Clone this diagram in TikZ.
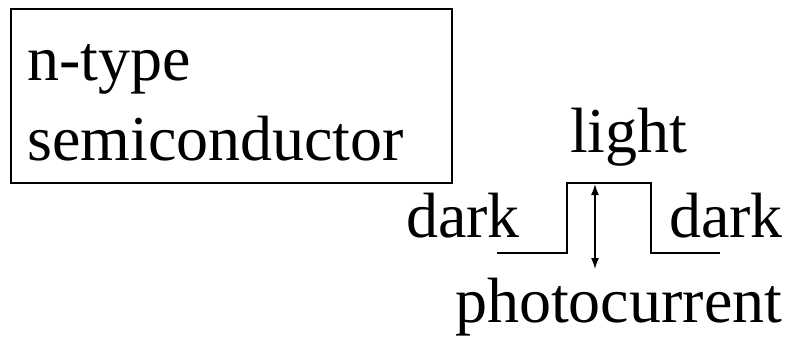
\documentclass[tikz,border=0pt]{standalone}
\usepackage{fontspec}
\setmainfont{Liberation Serif}
\usetikzlibrary{arrows.meta}
\begin{document}
\begin{tikzpicture}[x=1pt,y=-1pt,
  lbl/.style={inner sep=0pt,font=\fontsize{64}{76}\selectfont},
  wave/.style={line width=2pt},
  frame/.style={draw,line width=2.2pt,inner sep=0pt}]
\useasboundingbox (0,0) rectangle (788,338);
\node[frame,minimum width=441pt,minimum height=174pt,anchor=north west] (box) at (9.5,7.5) {};
\node[lbl,anchor=base west] (ntype) at (27,80) {n-type};
\node[lbl,anchor=base west] (semi) at (27,160) {semiconductor};
\node[lbl,anchor=base west] (light) at (570,152) {light};
\node[lbl,anchor=base west] (darkl) at (406,237) {dark};
\node[lbl,anchor=base west] (darkr) at (669,237) {dark};
\node[lbl,anchor=base west] (photo) at (455,322) {photocurrent};
\coordinate (w0) at (497,253);
\coordinate (w1) at (567,253);
\coordinate (w2) at (567,183);
\coordinate (w3) at (651,183);
\coordinate (w4) at (651,253);
\coordinate (w5) at (720,253);
\coordinate (atop) at (595,184);
\coordinate (abot) at (595,269);
\draw[wave] (w0) -- (w1) -- (w2) -- (w3) -- (w4) -- (w5);
\draw[line width=1.5pt,{Latex[length=11pt,width=8pt]}-{Latex[length=11pt,width=8pt]}] (atop) -- (abot);
\end{tikzpicture}
\end{document}
